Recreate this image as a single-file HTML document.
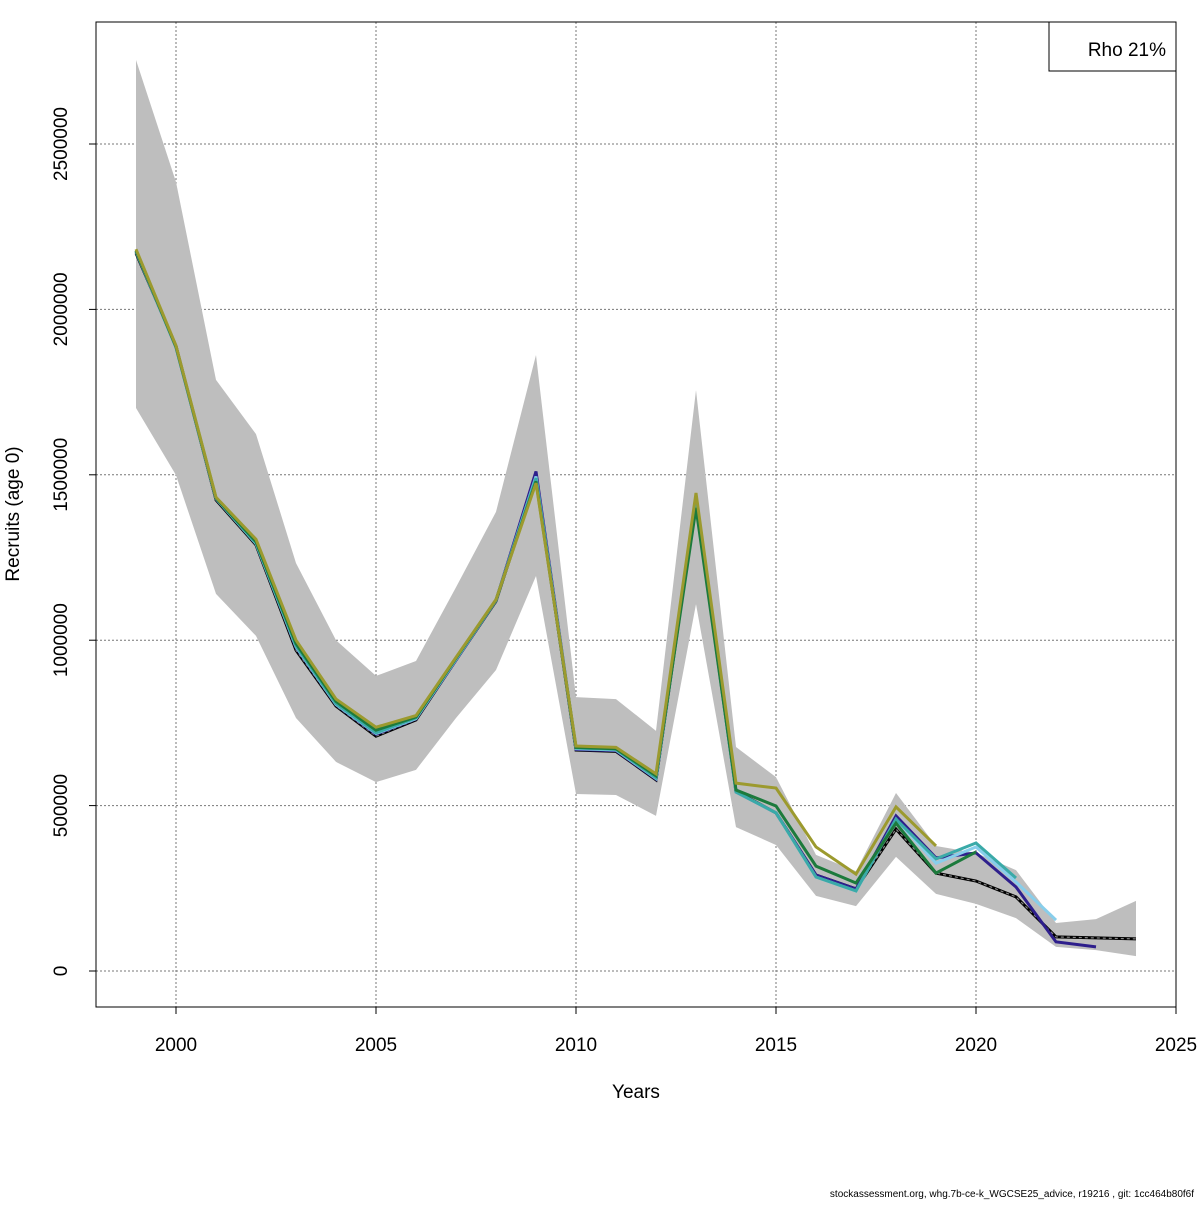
<!DOCTYPE html>
<html><head><meta charset="utf-8"><style>
body{margin:0;background:#fff;}
svg text{font-family:"Liberation Sans",sans-serif;}
</style></head><body>
<svg id="chart" width="1200" height="1200" xmlns="http://www.w3.org/2000/svg">
<rect x="0" y="0" width="1200" height="1200" fill="#fff"/>
<g id="grid"></g>
<g id="band"></g>
<g id="lines"></g>
<g id="axes"></g>
<rect x="96" y="22" width="1080" height="985" fill="none" stroke="#000" stroke-width="1"/>
<g>
<rect x="1049" y="22" width="127" height="49" fill="#fff" stroke="#000"/>
<text x="1166" y="56" font-size="19" text-anchor="end">Rho 21%</text>
</g>
<text x="636" y="1098" font-size="19" text-anchor="middle">Years</text>
<text transform="translate(19,514) rotate(-90)" font-size="19" text-anchor="middle">Recruits (age 0)</text>
<text x="1194" y="1197" font-size="10" text-anchor="end">stockassessment.org, whg.7b-ce-k_WGCSE25_advice, r19216 , git: 1cc464b80f6f</text>
</svg>
<script>
const years = [1999,2000,2001,2002,2003,2004,2005,2006,2007,2008,2009,2010,2011,2012,2013,2014,2015,2016,2017,2018,2019,2020,2021,2022,2023,2024];
const upper = [2754,2385,1787,1623,1233,1000,892,937,1160,1388,1862,828,822,726,1756,677,586,351,302,538,378,357,305,145,157,212];
const lower = [1702,1499,1140,1013,765,632,571,608,765,910,1194,535,532,469,1109,435,381,227,196,345,233,203,160,73,63,45];
const finalRun = [2170,1889,1424,1288,970,801,710,759,940,1118,1490,668,664,578,1420,543,478,290,248,429,296,272,224,103,100,97];
const peel1 = [2175,1885,1428,1292,978,805,716,762,940,1120,1510,670,666,580,1425,541,478,290,248,469,342,357,254,88,73];
const peel2 = [2175,1885,1428,1292,980,806,718,763,942,1120,1495,672,668,582,1420,541,478,284,242,459,326,375,269,154];
const peel3 = [2176,1886,1429,1294,983,808,720,765,944,1121,1490,674,670,584,1415,541,478,284,242,459,339,387,281];
const peel4 = [2178,1887,1430,1298,990,815,728,768,946,1122,1480,676,672,590,1400,547,499,317,266,447,296,360];
const peel5 = [2182,1890,1432,1305,1000,822,737,772,948,1123,1475,680,676,596,1445,568,553,375,293,496,378];
const yTicks = [0,500000,1000000,1500000,2000000,2500000];
const xTicks = [2000,2005,2010,2015,2020,2025];

const NS='http://www.w3.org/2000/svg';
const X = yr => 176 + (yr-2000)*40;
const Y = v => 971 - v/1e6*330.8;   // v in raw units
const Yk = v => Y(v*1000);          // v in thousands
function mk(tag, attrs, parent){const e=document.createElementNS(NS,tag);for(const k in attrs)e.setAttribute(k,attrs[k]);parent.appendChild(e);return e;}
const grid=document.getElementById('grid'), band=document.getElementById('band'), lines=document.getElementById('lines'), axes=document.getElementById('axes');

xTicks.forEach(t=>{
  const l=mk('line',{x1:X(t),x2:X(t),y1:22,y2:1007,stroke:'#777','stroke-dasharray':'2,2','stroke-width':1},grid);
  
  
  const tk=mk('line',{x1:X(t),x2:X(t),y1:1007,y2:1014,stroke:'#000'},axes);
  
  
  const tx=mk('text',{x:X(t),y:1051,'font-size':19,'text-anchor':'middle'},axes);
  tx.textContent=t;
  
  
});
yTicks.forEach(t=>{
  const l=mk('line',{x1:96,x2:1176,y1:Y(t),y2:Y(t),stroke:'#777','stroke-dasharray':'2,2','stroke-width':1},grid);
  
  
  const tk=mk('line',{x1:89,x2:96,y1:Y(t),y2:Y(t),stroke:'#000'},axes);
  
  
  const tx=mk('text',{transform:`translate(67,${Y(t)}) rotate(-90)`,'font-size':19,'text-anchor':'middle'},axes);
  tx.textContent=t;
  
  
});

let pts=years.map((y,i)=>X(y)+','+Yk(upper[i]));
for(let i=years.length-1;i>=0;i--) pts.push(X(years[i])+','+Yk(lower[i]));
const poly=mk('polygon',{points:pts.join(' '),fill:'#bebebe',stroke:'none'},band);



function drawLine(vals,color,name,dash){
  const p=vals.map((v,i)=>X(years[i])+','+Yk(v)).join(' ');
  if(dash){
    const b=mk('polyline',{points:p,fill:'none',stroke:'#000','stroke-width':3},lines);
    
    
    const d=mk('polyline',{points:p,fill:'none',stroke:'#888','stroke-width':1.2,'stroke-dasharray':'3,3'},lines);
    
    
  } else {
    const l=mk('polyline',{points:p,fill:'none',stroke:color,'stroke-width':3},lines);
    
    
  }
}
drawLine(finalRun,'#000','final-assessment-line',true);
drawLine(peel1,'#2e1f8c','peel-2023-line');
drawLine(peel2,'#87ceeb','peel-2022-line');
drawLine(peel3,'#3aaaa8','peel-2021-line');
drawLine(peel4,'#1c7a3c','peel-2020-line');
drawLine(peel5,'#9c9a2e','peel-2019-line');
</script>
</body></html>
